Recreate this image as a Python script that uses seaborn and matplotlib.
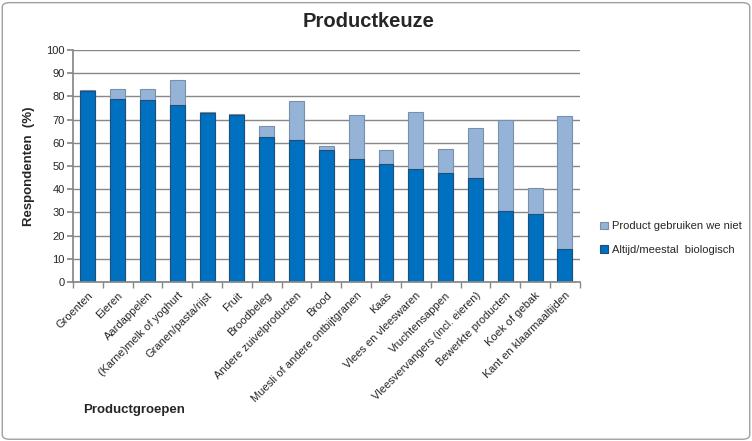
import matplotlib
matplotlib.use("Agg")
import matplotlib.pyplot as plt
import seaborn as sns
import pandas as pd
import numpy as np
from matplotlib.patches import FancyBboxPatch

categories = ["Groenten", "Eieren", "Aardappelen", "(Karne)melk of yoghurt",
              "Granen/pasta/rijst", "Fruit", "Broodbeleg", "Andere zuivelproducten",
              "Brood", "Muesli of andere ontbijtgranen", "Kaas", "Vlees en vleeswaren",
              "Vruchtensappen", "Vleesvervangers (incl. eieren)", "Bewerkte producten",
              "Koek of gebak", "Kant en klaarmaaltijden"]
biologisch = [82.5, 79, 78.5, 76.3, 73, 72, 62.7, 61.3, 57, 53, 51, 48.6, 46.9, 45, 30.6, 29.4, 14.2]
niet_gebruikt = [0.3, 4, 4.5, 10.7, 0.3, 0.3, 4.4, 16.6, 1.5, 18.9, 5.8, 24.6, 10.6, 21.6, 39.1, 11.1, 57.5]

sns.set_theme(style="white")
plt.rcParams['font.family'] = ['Liberation Sans', 'DejaVu Sans']

df = pd.DataFrame({"cat": categories, "bio": biologisch,
                   "total": np.array(biologisch) + np.array(niet_gebruikt)})

fig = plt.figure(figsize=(7.52, 4.41), dpi=100)
ax = fig.add_axes([0.097, 0.3605, 0.674, 0.526])

light = "#95B3D7"
dark = "#0070C0"
sns.barplot(data=df, x="cat", y="total", color=light, width=0.5, ax=ax,
            edgecolor="#7A8FAA", linewidth=0.8, saturation=1, label="Product gebruiken we niet")
sns.barplot(data=df, x="cat", y="bio", color=dark, width=0.5, ax=ax,
            edgecolor="#1F4E79", linewidth=0.8, saturation=1, label="Altijd/meestal  biologisch")

ax.set_ylim(0, 100)
ax.set_xlim(-0.5, len(categories) - 0.5)
ax.set_yticks(range(0, 101, 10))
ax.yaxis.grid(True, color="#888888", linewidth=1)
ax.set_axisbelow(True)
for s in ["top", "right"]:
    ax.spines[s].set_visible(False)
for s in ["left", "bottom"]:
    ax.spines[s].set_color("#888888")
ax.tick_params(axis="y", labelsize=8, length=4, direction="out", color="#888888", left=True, pad=2)
ax.tick_params(axis="x", labelsize=8, length=0, pad=6)
ax.set_xticks(np.arange(-0.5, len(categories), 1), minor=True)
ax.tick_params(axis="x", which="minor", length=4, color="#888888", bottom=True)
ax.set_xticklabels(categories, rotation=45, ha="right", rotation_mode="anchor")

ax.set_xlabel("")
ax.set_ylabel("Respondenten  (%)", fontsize=9.5, fontweight="bold", labelpad=8)
fig.text(0.11, 0.07, "Productgroepen", fontsize=9.5, fontweight="bold", ha="left", va="center")
fig.text(0.49, 0.952, "Productkeuze", fontsize=14.5, fontweight="bold", ha="center", va="center")

h, l = ax.get_legend_handles_labels()
leg = ax.legend(h, l, loc="center left", bbox_to_anchor=(1.02, 0.19), frameon=False,
                fontsize=8, handlelength=0.7, handleheight=0.7, labelspacing=1.2, handletextpad=0.4)

border = FancyBboxPatch((0.003, 0.004), 0.994, 0.99, boxstyle="round,pad=0,rounding_size=0.01",
                        transform=fig.transFigure, fill=False, edgecolor="#A0A0A0", linewidth=1)
fig.patches.append(border)

fig.savefig("out.png", dpi=100)
